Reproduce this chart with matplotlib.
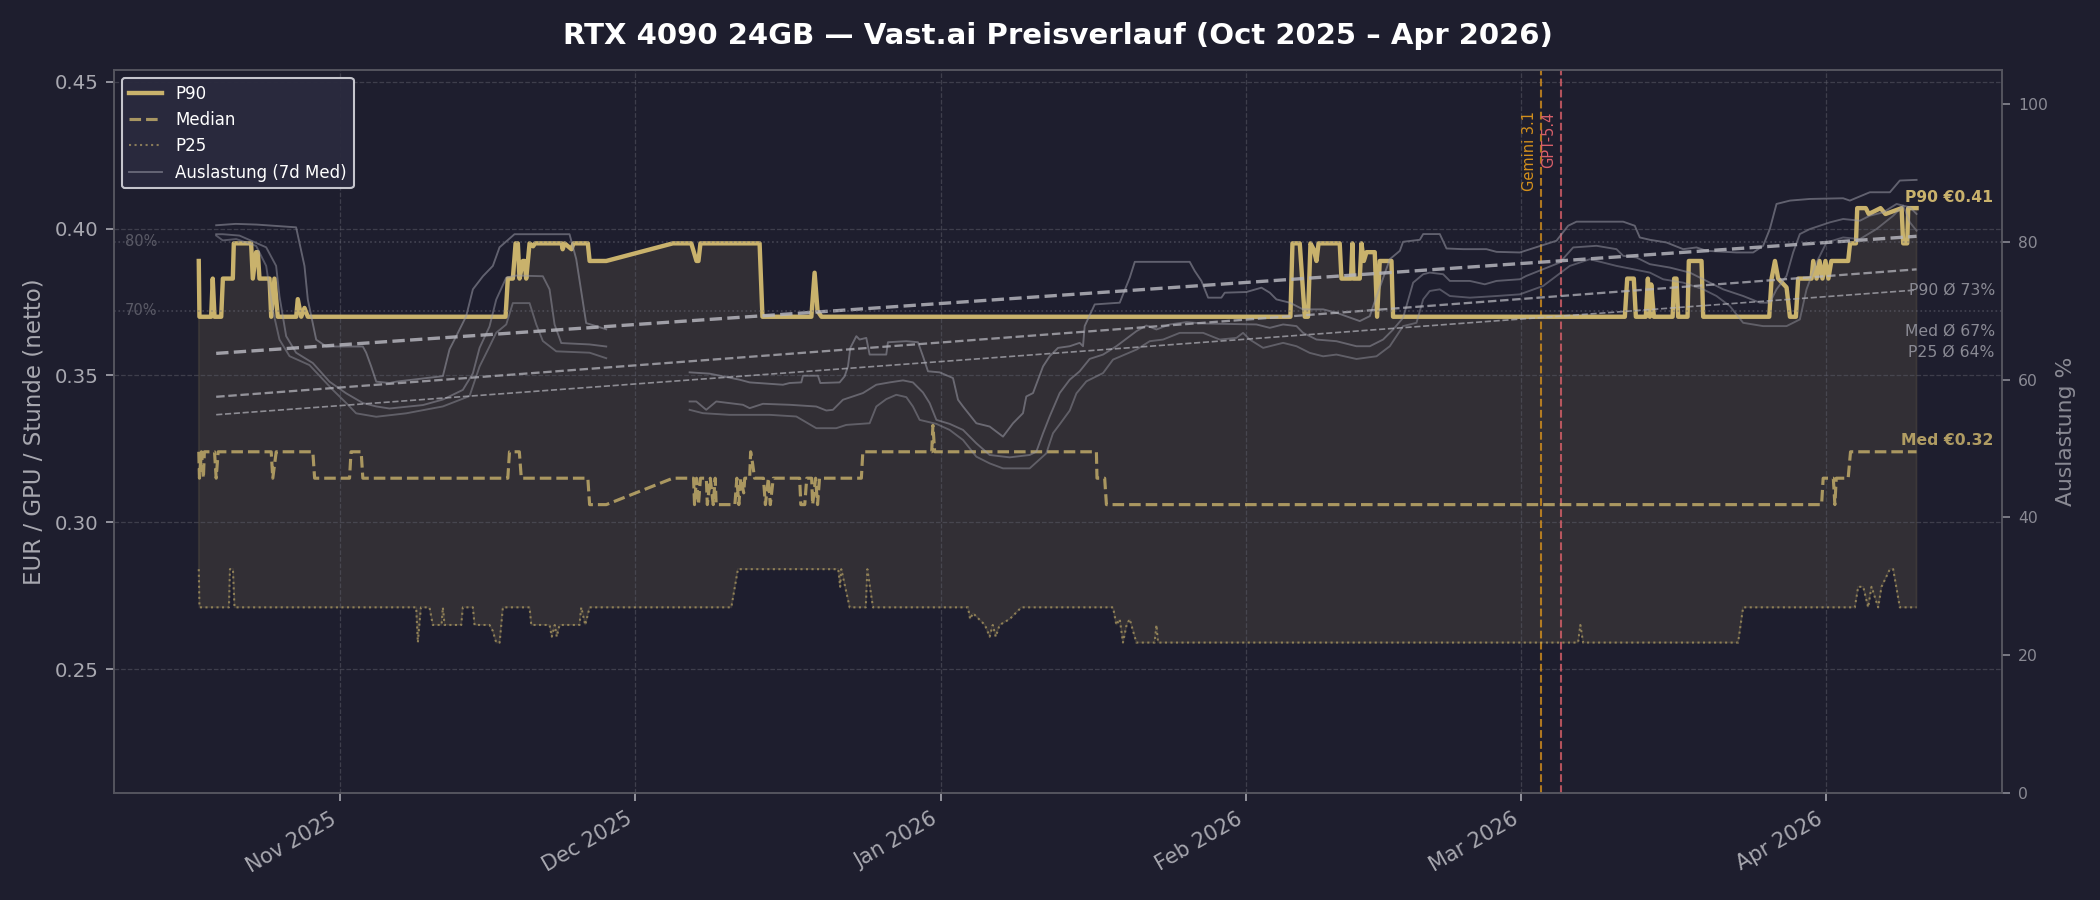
import numpy as np
import pandas as pd
import matplotlib
matplotlib.use("Agg")
import matplotlib.pyplot as plt
import matplotlib.dates as mdates
from matplotlib.transforms import blended_transform_factory, offset_copy

# day offsets are counted from 2025-11-01
BASE = pd.Timestamp("2025-11-01")

# price percentiles (EUR / GPU / h), (day, value)
p90_pts = [(-14.37, 0.389), (-14.3, 0.370), (-13.11, 0.370), (-12.95, 0.383), (-12.77, 0.370), (-12.09, 0.370),
           (-11.92, 0.383), (-10.91, 0.383), (-10.81, 0.395), (-9.05, 0.395), (-8.88, 0.383), (-8.54, 0.392),
           (-8.37, 0.392), (-8.20, 0.383), (-7.18, 0.383), (-7.01, 0.370), (-6.68, 0.383), (-6.34, 0.370),
           (-4.47, 0.370), (-4.31, 0.376), (-3.96, 0.370), (-3.63, 0.373), (-3.29, 0.370), (16.80, 0.370),
           (17.03, 0.383), (17.54, 0.383), (17.82, 0.395), (18.05, 0.395), (18.22, 0.383), (18.56, 0.389),
           (18.73, 0.389), (18.90, 0.383), (19.24, 0.395), (19.6, 0.394), (19.8, 0.395), (22.5, 0.395),
           (22.6, 0.393), (22.8, 0.395), (23.5, 0.393), (23.7, 0.395), (25.16, 0.395), (25.34, 0.389),
           (27.03, 0.389), (33.80, 0.395), (35.67, 0.395), (36.2, 0.389), (36.4, 0.389), (36.6, 0.395),
           (42.61, 0.395), (42.9, 0.370), (47.87, 0.370), (48.2, 0.385), (48.5, 0.372), (48.9, 0.370),
           (96.54, 0.370), (96.75, 0.395), (97.49, 0.395), (98.0, 0.370), (98.33, 0.370), (98.58, 0.395),
           (98.9, 0.393), (99.19, 0.389), (99.4, 0.395), (101.55, 0.395), (101.73, 0.383), (102.7, 0.383),
           (102.84, 0.395), (102.95, 0.383), (103.59, 0.383), (103.76, 0.395), (104.0, 0.389), (104.27, 0.392),
           (105.11, 0.392), (105.35, 0.370), (105.62, 0.389), (106.81, 0.389), (106.97, 0.370), (130.52, 0.370),
           (130.76, 0.383), (131.43, 0.383), (131.64, 0.370), (132.65, 0.370), (132.86, 0.383), (133.06, 0.370),
           (133.2, 0.381), (133.47, 0.370), (135.37, 0.370), (135.53, 0.383), (135.77, 0.383), (135.94, 0.370),
           (136.89, 0.370), (137.02, 0.389), (138.31, 0.389), (138.48, 0.370), (145.19, 0.370), (145.43, 0.383),
           (145.77, 0.389), (146.1, 0.383), (146.95, 0.380), (147.29, 0.370), (147.9, 0.370), (148.13, 0.383),
           (149.49, 0.383), (149.66, 0.389), (150.0, 0.383), (150.3, 0.389), (150.6, 0.383), (150.9, 0.389),
           (151.2, 0.383), (151.5, 0.389), (151.86, 0.389), (153.21, 0.389), (153.4, 0.395), (154.0, 0.395),
           (154.13, 0.407), (155.0, 0.407), (155.3, 0.405), (156.5, 0.407), (157.0, 0.405), (158.64, 0.407),
           (158.8, 0.395), (159.21, 0.395), (159.31, 0.407), (160.16, 0.407)]

med_pts = [(-14.37, 0.324), (-14.3, 0.315), (-14.1, 0.324), (-13.9, 0.315), (-13.8, 0.324), (-12.77, 0.324),
           (-12.6, 0.315), (-12.4, 0.324), (-7.01, 0.324), (-6.85, 0.315), (-6.5, 0.324), (-2.78, 0.324),
           (-2.6, 0.315), (0.95, 0.315), (1.1, 0.324), (2.13, 0.324), (2.3, 0.315), (17.03, 0.315),
           (17.2, 0.324), (18.2, 0.324), (18.4, 0.315), (25.16, 0.315), (25.34, 0.306), (27.03, 0.306),
           (33.80, 0.315), (35.9, 0.315), (36.0, 0.306), (36.2, 0.315), (36.4, 0.306), (36.6, 0.315),
           (37.2, 0.315), (37.3, 0.306), (37.6, 0.315), (37.9, 0.306), (38.1, 0.315), (38.2, 0.306),
           (40.1, 0.306), (40.3, 0.315), (40.5, 0.306), (40.7, 0.315), (41.0, 0.310), (41.1, 0.315),
           (41.6, 0.315), (41.7, 0.324), (41.9, 0.320), (42.1, 0.315), (43.0, 0.315), (43.2, 0.306),
           (43.5, 0.315), (43.7, 0.306), (44.0, 0.315), (46.68, 0.315), (46.8, 0.306), (47.2, 0.306),
           (47.4, 0.315), (47.9, 0.315), (48.0, 0.306), (48.3, 0.315), (48.5, 0.306), (48.7, 0.315),
           (52.95, 0.315), (53.1, 0.324), (60.1, 0.324), (60.22, 0.333), (60.4, 0.324), (76.83, 0.324),
           (76.89, 0.315), (77.67, 0.315), (77.85, 0.306), (150.51, 0.306), (150.67, 0.315), (151.7, 0.315),
           (151.86, 0.306), (152.0, 0.315), (153.21, 0.315), (153.45, 0.324), (160.16, 0.324)]

p25_pts = [(-14.37, 0.284), (-14.3, 0.271), (-11.3, 0.271), (-11.2, 0.284), (-10.9, 0.284), (-10.74, 0.271),
           (7.72, 0.271), (7.89, 0.259), (8.2, 0.271), (9.07, 0.271), (9.41, 0.265), (10.3, 0.265),
           (10.43, 0.271), (10.6, 0.265), (12.30, 0.265), (12.46, 0.271), (13.48, 0.271), (13.65, 0.265),
           (15.17, 0.265), (15.5, 0.263), (15.85, 0.259), (16.2, 0.259), (16.53, 0.271), (19.24, 0.271),
           (19.41, 0.265), (21.27, 0.265), (21.5, 0.261), (21.8, 0.265), (22.0, 0.261), (22.29, 0.265),
           (24.32, 0.265), (24.49, 0.271), (24.9, 0.265), (25.34, 0.271), (39.74, 0.271), (40.41, 0.284),
           (50.6, 0.284), (50.8, 0.278), (50.91, 0.284), (51.76, 0.271), (53.4, 0.271), (53.56, 0.284),
           (54.13, 0.271), (63.78, 0.271), (64.0, 0.267), (64.29, 0.269), (65.5, 0.265), (65.99, 0.261),
           (66.3, 0.265), (66.6, 0.261), (67.0, 0.265), (68.02, 0.267), (69.21, 0.271), (78.52, 0.271),
           (78.86, 0.265), (79.2, 0.267), (79.53, 0.259), (79.9, 0.265), (80.21, 0.267), (80.89, 0.259),
           (82.75, 0.259), (82.93, 0.265), (83.09, 0.259), (125.77, 0.259), (126.0, 0.265), (126.28, 0.259),
           (142.03, 0.259), (142.54, 0.271), (153.89, 0.271), (154.23, 0.278), (154.74, 0.278), (155.24, 0.271),
           (155.58, 0.278), (156.26, 0.271), (156.6, 0.278), (157.45, 0.284), (157.78, 0.284), (158.46, 0.271),
           (160.16, 0.271)]

# utilisation (7d median, %) at the three price levels; NaN = no data
util_p90_pts = [(-12.6, 82.4), (-10.6, 82.6), (-8.5, 82.5), (-4.48, 82.1), (-3.63, 76.5), (-3.29, 71.6),
                (-2.44, 65.8), (-1.42, 64.8), (2.30, 64.8), (2.64, 63.9), (3.15, 61.9), (3.66, 59.7),
                (5.01, 59.5), (5.69, 59.7), (10.43, 60.5), (11.11, 64.4), (11.79, 66.3), (12.80, 69.2),
                (13.48, 73.1), (14.50, 75.0), (15.51, 76.5), (16.19, 79.2), (17.71, 81.1), (23.30, 81.1),
                (23.98, 77.5), (24.99, 68.2), (27.03, 67.3), (31.0, np.nan),
                (35.50, 61.05), (37.53, 60.86), (40.58, 59.98), (41.60, 59.59), (44.98, 59.25), (45.66, 59.50),
                (46.85, 59.59), (47.02, 60.56), (48.54, 60.56), (48.78, 59.50), (50.74, 59.59), (51.25, 60.47),
                (51.59, 61.92), (51.83, 64.60), (52.44, 66.30), (52.77, 65.81), (53.45, 66.05), (53.79, 63.63),
                (55.48, 63.63), (55.65, 65.42), (57.52, 65.57), (58.70, 65.42), (59.21, 63.38), (59.72, 61.20),
                (60.90, 61.05), (62.26, 60.22), (62.77, 57.07), (63.28, 56.09), (64.63, 53.66), (65.99, 53.18),
                (67.34, 51.72), (68.36, 53.66), (69.37, 55.12), (69.71, 57.55), (70.39, 58.04), (71.41, 61.92),
                (72.08, 63.38), (72.93, 64.60), (74.12, 64.84), (75.13, 65.33), (75.47, 64.84), (75.64, 67.76),
                (76.66, 70.91), (79.20, 71.16), (79.54, 72.37), (80.22, 74.80), (80.73, 77.09), (86.31, 77.09),
                (86.82, 75.77), (87.50, 74.32), (88.18, 71.89), (89.53, 71.89), (89.87, 72.61), (92.07, 72.71),
                (93.60, 73.34), (94.45, 72.61), (95.12, 71.64), (96.48, 71.16), (97.16, 70.67), (97.83, 70.19),
                (99.87, 70.19), (101.22, 69.70), (103.59, 68.49), (104.61, 69.21), (104.95, 70.67), (106.64, 77.47),
                (107.66, 78.69), (107.99, 80.0), (109.69, 80.29), (110.03, 81.12), (111.72, 81.12), (112.40, 79.03),
                (114.09, 78.93), (116.46, 78.93), (117.48, 78.54), (119.85, 78.45), (123.57, 80.15), (124.76, 82.33),
                (125.61, 82.92), (130.35, 82.92), (131.53, 82.33), (132.04, 80.63), (133.06, 80.29), (134.75, 79.90),
                (136.45, 78.93), (137.80, 79.18), (138.82, 78.69), (141.87, 78.45), (143.56, 78.45), (144.57, 79.42),
                (145.25, 81.85), (145.93, 85.49), (147.29, 85.98), (149.32, 86.22), (152.70, 86.32), (153.38, 85.98),
                (155.41, 87.19), (157.45, 87.19), (158.46, 88.89), (160.16, 88.99)]

util_med_pts = [(-12.6, 81.1), (-11.93, 81.1), (-10.23, 80.9), (-7.52, 79.2), (-6.51, 76.5), (-6.17, 72.1),
                (-5.49, 66.3), (-4.48, 63.9), (-2.78, 62.4), (-1.09, 59.7), (0.61, 58.0), (2.30, 56.6),
                (3.66, 56.1), (5.01, 55.8), (8.40, 56.3), (10.43, 57.1), (12.46, 58.5), (13.48, 60.9),
                (14.16, 64.6), (15.17, 67.7), (15.85, 71.6), (16.87, 74.8), (17.88, 75.1), (20.59, 75.0),
                (21.27, 73.1), (21.78, 68.0), (22.46, 65.3), (25.34, 65.1), (27.03, 64.8), (31.0, np.nan),
                (35.50, 56.82), (36.18, 56.82), (37.19, 55.61), (38.21, 56.82), (40.92, 56.34), (41.60, 55.85),
                (42.95, 56.48), (45.66, 56.34), (48.37, 56.09), (49.39, 55.51), (50.06, 55.61), (51.08, 57.07),
                (53.11, 58.04), (54.47, 59.25), (55.82, 59.59), (57.18, 59.88), (58.19, 59.59), (59.21, 58.13),
                (59.89, 56.58), (60.57, 54.15), (61.92, 53.57), (63.28, 52.69), (64.63, 50.75), (65.99, 49.05),
                (68.02, 48.71), (70.05, 49.05), (70.73, 49.54), (71.41, 52.21), (72.08, 54.64), (73.10, 58.04),
                (74.12, 59.98), (75.13, 61.20), (76.15, 63.0), (77.51, 63.63), (78.86, 64.84), (80.90, 67.03),
                (81.91, 67.85), (82.93, 67.27), (84.28, 68.0), (85.98, 68.34), (87.67, 68.14), (93.09, 68.0),
                (94.45, 67.51), (95.80, 68.0), (97.16, 67.76), (97.83, 66.78), (99.19, 65.81), (101.22, 65.57),
                (103.25, 64.84), (104.61, 64.84), (105.96, 65.81), (106.98, 67.27), (107.99, 68.97), (109.01, 74.07),
                (110.03, 75.29), (110.70, 75.53), (112.06, 75.29), (112.74, 74.32), (114.77, 74.32), (116.29, 73.83),
                (117.48, 74.32), (119.85, 74.56), (120.52, 75.05), (122.22, 76.02), (123.91, 76.99), (125.27, 79.18),
                (127.64, 79.42), (129.67, 78.93), (130.35, 77.96), (131.70, 77.72), (133.06, 76.75), (135.09, 76.26),
                (137.12, 75.53), (138.48, 74.56), (140.51, 73.10), (142.54, 72.13), (144.24, 71.16), (145.25, 71.16),
                (145.93, 73.10), (146.95, 75.05), (147.62, 78.45), (148.30, 81.12), (149.32, 81.85), (151.35, 82.82),
                (152.70, 83.31), (154.40, 83.06), (155.41, 83.79), (156.77, 84.28), (158.13, 85.49), (159.48, 85.01),
                (160.16, 84.04)]

util_p25_pts = [(-12.6, 80.9), (-11.93, 80.2), (-10.57, 80.4), (-8.54, 79.4), (-7.52, 76.5), (-6.85, 70.1),
                (-6.17, 65.8), (-5.15, 63.4), (-3.12, 62.1), (-0.75, 58.5), (0.61, 56.6), (1.62, 55.1),
                (3.66, 54.6), (6.70, 55.1), (10.43, 56.1), (13.14, 57.6), (14.16, 61.9), (15.17, 64.8),
                (15.85, 66.8), (16.87, 68.0), (17.54, 71.1), (19.24, 71.1), (19.92, 68.0), (20.59, 65.6),
                (21.95, 64.1), (25.34, 63.9), (27.03, 63.1), (31.0, np.nan),
                (35.50, 55.61), (36.85, 55.12), (39.56, 54.88), (43.63, 54.88), (46.34, 54.64), (48.37, 52.94),
                (50.40, 52.94), (51.42, 53.42), (53.79, 53.66), (54.47, 56.09), (55.48, 57.16), (56.50, 57.79),
                (57.52, 57.45), (58.19, 56.09), (58.87, 54.15), (60.57, 53.57), (61.92, 52.69), (63.28, 51.23),
                (64.63, 48.81), (65.99, 47.83), (67.34, 47.11), (70.05, 47.11), (71.74, 49.29), (72.42, 52.21),
                (73.10, 53.5), (74.12, 55.5), (74.8, 58.0), (75.81, 59.74), (77.51, 60.95), (78.52, 62.90),
                (80.90, 64.35), (82.25, 65.57), (83.61, 65.81), (85.30, 66.78), (87.67, 66.78), (89.36, 65.81),
                (91.06, 66.05), (91.73, 66.78), (92.41, 65.81), (93.77, 64.60), (95.80, 65.33), (97.16, 64.84),
                (98.51, 63.87), (99.87, 63.38), (101.22, 63.63), (103.25, 62.99), (105.29, 63.38), (106.64, 64.84),
                (107.99, 67.76), (109.35, 68.24), (110.03, 71.64), (110.70, 72.86), (111.72, 73.10), (112.74, 72.13),
                (114.77, 71.89), (117.48, 72.13), (119.85, 72.37), (122.22, 73.59), (124.93, 76.50), (126.96, 77.47),
                (128.31, 76.99), (129.67, 76.50), (131.36, 76.02), (133.06, 75.53), (134.41, 74.56), (136.45, 74.07),
                (138.48, 73.10), (139.83, 72.13), (141.19, 70.67), (142.54, 68.24), (144.57, 67.76), (146.95, 67.76),
                (148.30, 68.73), (148.98, 73.10), (149.99, 76.99), (151.01, 79.90), (152.70, 80.63), (154.40, 80.39),
                (156.09, 81.85), (157.79, 83.79), (158.80, 85.25), (159.48, 82.82), (160.16, 81.61)]

# linear trends of utilisation (start, end) and averages
trend_days = [-12.6, 160.16]
trend_p90 = [63.8, 80.8]
trend_med = [57.5, 76.0]
trend_p25 = [54.9, 73.0]
util_avg = {"P90": 73, "Med": 67, "P25": 64}

events = [("Gemini 3.1", "2026-03-03", "#d4901c"), ("GPT-5.4", "2026-03-05", "#d9606a")]
x_range = ["2025-10-09 00:00", "2026-04-18 21:00"]

BG = "#1e1e2e"
GOLD = "#c9b26c"
GREY_TXT = "#a8a8b0"


def to_series(pts):
    d, v = zip(*pts)
    t = BASE + pd.to_timedelta(np.array(d), unit="D")
    return mdates.date2num(t.to_pydatetime()), np.array(v, dtype=float)


t90, v90 = to_series(p90_pts)
tmed, vmed = to_series(med_pts)
t25, v25 = to_series(p25_pts)

fig = plt.figure(figsize=(14, 6), dpi=150, facecolor=BG)
ax = fig.add_subplot(111)
fig.subplots_adjust(left=0.0542, right=0.9535, bottom=0.119, top=0.9227)
ax.set_facecolor(BG)

# band between P25 and P90
ax.fill(np.concatenate([t90, t25[::-1]]), np.concatenate([v90, v25[::-1]]),
        color=GOLD, alpha=0.12, lw=0.8, zorder=1)
ax.plot(t90, v90, color=GOLD, lw=2.1, label="P90", zorder=4)
ax.plot(tmed, vmed, color=GOLD, lw=1.5, ls="--", alpha=0.8, label="Median", zorder=4)
ax.plot(t25, v25, color=GOLD, lw=1.0, ls=":", alpha=0.6, label="P25", zorder=4)

ax.set_ylim(0.2078, 0.4542)
ax.set_xlim(mdates.datestr2num(x_range[0]), mdates.datestr2num(x_range[1]))
ax.set_ylabel("EUR / GPU / Stunde (netto)", color=GREY_TXT, fontsize=11)
ax.grid(True, ls="--", color="#5a5a66", lw=0.6, alpha=0.55)
ax.tick_params(axis="y", colors=GREY_TXT, labelsize=9.5, length=4)
ax.tick_params(axis="x", colors=GREY_TXT, labelsize=10, length=4)
ax.xaxis.set_major_locator(mdates.MonthLocator())
ax.xaxis.set_major_formatter(mdates.DateFormatter("%b %Y"))
for lbl in ax.get_xticklabels():
    lbl.set_rotation(30)
    lbl.set_ha("right")
for s in ax.spines.values():
    s.set_color("#55555f")

# event markers
for name, day, col in events:
    x = mdates.datestr2num(day)
    ax.axvline(x, color=col, ls="--", lw=1.0, alpha=0.8, zorder=3)
    ax.text(x, 0.44, name, rotation=90, va="top", ha="right", fontsize=7, color=col,
            transform=offset_copy(ax.transData, fig=fig, x=-2, y=0, units="points"))

# last values
ax.text(0.995, v90[-1] + 0.0012, f"P90 €{v90[-1]:.2f}", transform=blended_transform_factory(ax.transAxes, ax.transData),
        ha="right", va="bottom", fontsize=7.5, fontweight="bold", color=GOLD)
ax.text(0.995, vmed[-1] + 0.0012, f"Med €{vmed[-1]:.2f}", transform=blended_transform_factory(ax.transAxes, ax.transData),
        ha="right", va="bottom", fontsize=7.5, fontweight="bold", color=GOLD, alpha=0.85)

# utilisation on the right axis
ax2 = ax.twinx()
ax2.set_ylim(0, 105)
util_lines = []
for pts, a in [(util_p90_pts, 0.55), (util_med_pts, 0.5), (util_p25_pts, 0.45)]:
    tu, vu = to_series(pts)
    ln, = ax2.plot(tu, vu, color="#9a9aa6", lw=0.9, alpha=a)
    util_lines.append(ln)
util_lines[0].set_label("Auslastung (7d Med)")

tt = mdates.date2num((BASE + pd.to_timedelta(np.array(trend_days), unit="D")).to_pydatetime())
ax2.plot(tt, trend_p90, color="#b4b4bc", ls="--", lw=1.6, alpha=0.85)
ax2.plot(tt, trend_med, color="#b4b4bc", ls="--", lw=1.1, alpha=0.75)
ax2.plot(tt, trend_p25, color="#b4b4bc", ls="--", lw=0.8, alpha=0.7)

bt = blended_transform_factory(ax2.transAxes, ax2.transData)
for lvl in (80, 70):
    ax2.axhline(lvl, color="#6a6a76", ls=":", lw=0.8, alpha=0.5)
    ax2.text(0.006, lvl, f"{lvl}%", transform=bt, va="center", ha="left", fontsize=7, color="#5a5a66")
for key, val in util_avg.items():
    ax2.text(0.996, val, f"{key} Ø {val}%", transform=bt, va="center", ha="right", fontsize=7.5, color="#8a8a94")

ax2.set_ylabel("Auslastung %", color="#8a8a94", fontsize=10.5)
ax2.tick_params(axis="y", colors="#8a8a94", labelsize=7.5, length=4)
for s in ax2.spines.values():
    s.set_color("#55555f")

h1, l1 = ax.get_legend_handles_labels()
leg = ax2.legend(h1 + [util_lines[0]], l1 + ["Auslastung (7d Med)"], loc="upper left",
                 fontsize=8, facecolor="#2a2a3e", edgecolor="#cfcfd6", framealpha=0.95, labelcolor="white")

fig.suptitle("RTX 4090 24GB — Vast.ai Preisverlauf (Oct 2025 – Apr 2026)", x=0.504, y=0.96, va="center",
             fontsize=14, fontweight="bold", color="white")

fig.savefig("out.png", dpi=150, facecolor=BG)
